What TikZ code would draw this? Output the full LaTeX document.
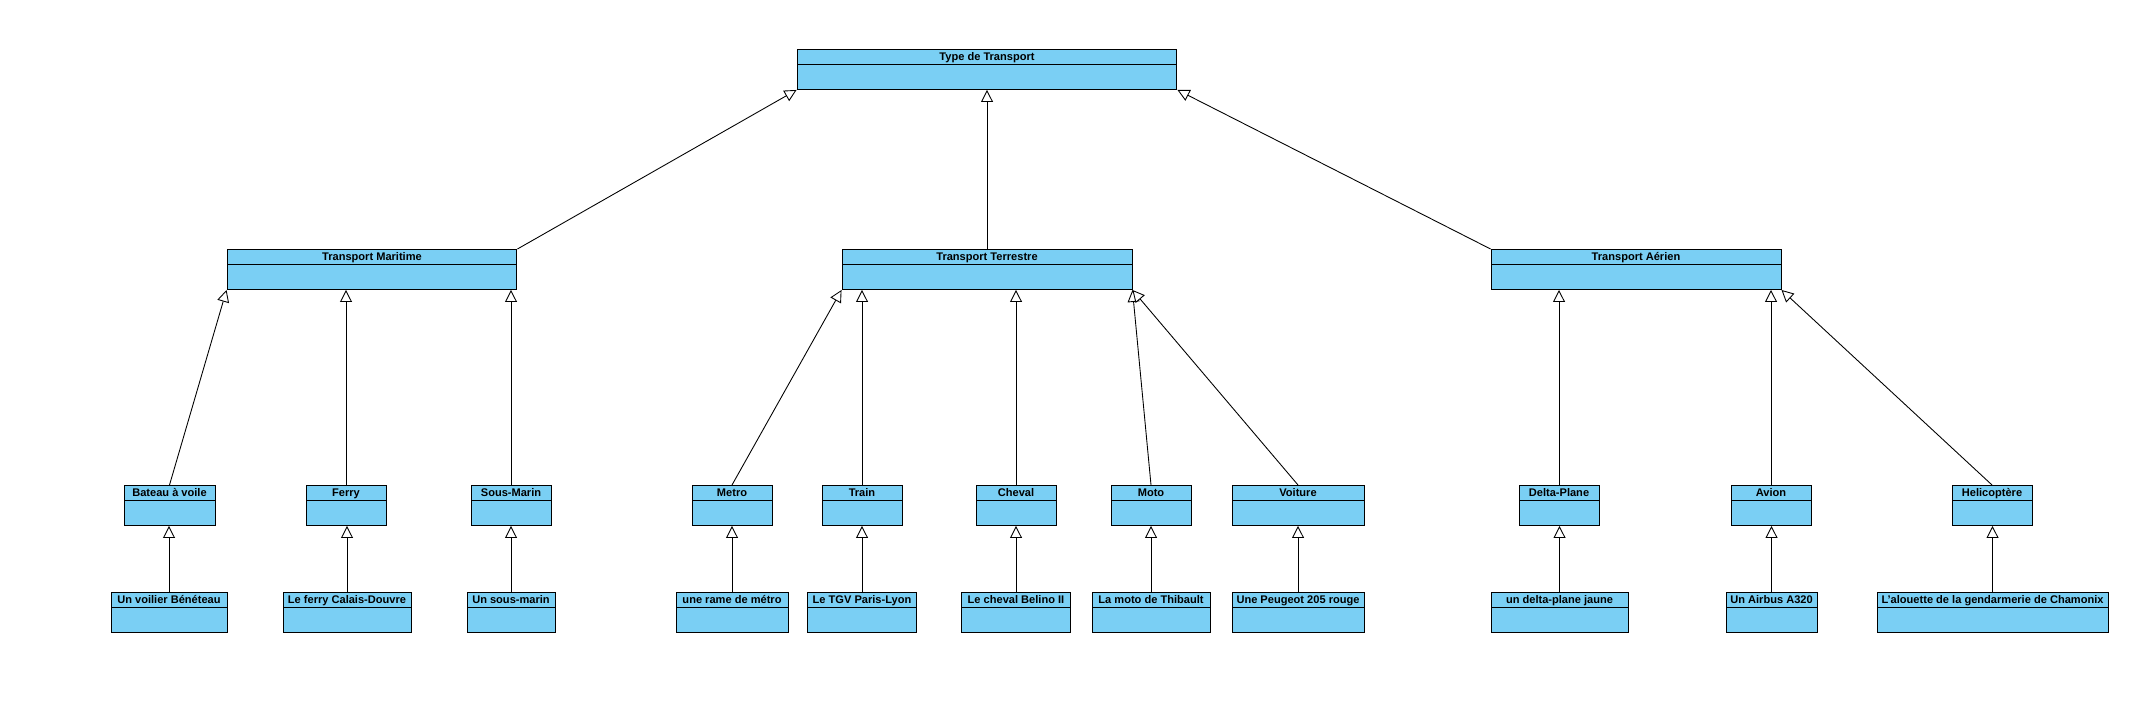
\documentclass[tikz,border=0pt]{standalone}
\usepackage{fontspec}
\setmainfont{Liberation Sans}
\usetikzlibrary{arrows.meta}
\definecolor{bleuclasse}{RGB}{122,207,244}

\begin{document}
\begin{tikzpicture}[x=0.02cm,y=-0.02cm,
	classe/.style={draw, fill=bleuclasse, line width=0.55pt, anchor=north, inner sep=0pt, minimum height=0.8cm, text height=0.22cm, text depth=0.58cm, font=\fontsize{6.3}{7}\selectfont\bfseries, path picture={\draw[line width=0.55pt] ([yshift=-0.3cm]path picture bounding box.north west)--([yshift=-0.3cm]path picture bounding box.north east);}},
	herit/.style={line width=0.5pt, -{Triangle[fill=white, length=0.24cm, width=0.24cm, line width=0.5pt]}}]
	\useasboundingbox (0,0) rectangle (2156,713);
	\node[classe, minimum width=7.6cm] (type) at (987,49){Type de Transport};
	\node[classe, minimum width=5.8cm] (mar) at (372,249){Transport Maritime};
	\node[classe, minimum width=5.8cm] (terr) at (987,249){Transport Terrestre};
	\node[classe, minimum width=5.8cm] (aer) at (1636,249){Transport Aérien};
	\node[classe, minimum width=1.82cm] (bateau) at (169.5,485){Bateau à voile};
	\node[classe, minimum width=1.6cm] (ferry) at (346,485){Ferry};
	\node[classe, minimum width=1.6cm] (sousmarin) at (511,485){Sous-Marin};
	\node[classe, minimum width=1.6cm] (metro) at (732,485){Metro};
	\node[classe, minimum width=1.6cm] (train) at (862,485){Train};
	\node[classe, minimum width=1.6cm] (cheval) at (1016,485){Cheval};
	\node[classe, minimum width=1.6cm] (moto) at (1151,485){Moto};
	\node[classe, minimum width=2.64cm] (voiture) at (1298,485){Voiture};
	\node[classe, minimum width=1.6cm] (delta) at (1559,485){Delta-Plane};
	\node[classe, minimum width=1.6cm] (avion) at (1771,485){Avion};
	\node[classe, minimum width=1.6cm] (helico) at (1992,485){Helicoptère};
	\node[classe, minimum width=2.32cm] (voilier) at (169,592){Un voilier Bénéteau};
	\node[classe, minimum width=2.56cm] (calais) at (347,592){Le ferry Calais-Douvre};
	\node[classe, minimum width=1.76cm] (unsm) at (511,592){Un sous-marin};
	\node[classe, minimum width=2.24cm] (rame) at (732,592){une rame de métro};
	\node[classe, minimum width=2.18cm] (tgv) at (862,592){Le TGV Paris-Lyon};
	\node[classe, minimum width=2.18cm] (belino) at (1016,592){Le cheval Belino II};
	\node[classe, minimum width=2.36cm] (thibault) at (1151,592){La moto de Thibault};
	\node[classe, minimum width=2.64cm] (peugeot) at (1298,592){Une Peugeot 205 rouge};
	\node[classe, minimum width=2.74cm] (jaune) at (1559.5,592){un delta-plane jaune};
	\node[classe, minimum width=1.82cm] (airbus) at (1771.5,592){Un Airbus A320};
	\node[classe, minimum width=4.62cm] (alouette) at (1992.5,592){L'alouette de la gendarmerie de Chamonix};
	% niveau 1
	\draw[herit] (mar.north east)--(type.south west);
	\draw[herit] (terr.north)--(type.south);
	\draw[herit] (aer.north west)--(type.south east);
	% niveau 2
	\draw[herit] (bateau.north)--(mar.south west);
	\draw[herit] (ferry.north)--(ferry.north |- mar.south);
	\draw[herit] (sousmarin.north)--(sousmarin.north |- mar.south);
	\draw[herit] (metro.north)--(terr.south west);
	\draw[herit] (train.north)--(train.north |- terr.south);
	\draw[herit] (cheval.north)--(cheval.north |- terr.south);
	\draw[herit] (moto.north)--(terr.south east);
	\draw[herit] (voiture.north)--(terr.south east);
	\draw[herit] (delta.north)--(delta.north |- aer.south);
	\draw[herit] (avion.north)--(avion.north |- aer.south);
	\draw[herit] (helico.north)--(aer.south east);
	% niveau 3
	\draw[herit] (voilier.north)--(voilier.north |- bateau.south);
	\draw[herit] (calais.north)--(calais.north |- ferry.south);
	\draw[herit] (unsm.north)--(unsm.north |- sousmarin.south);
	\draw[herit] (rame.north)--(rame.north |- metro.south);
	\draw[herit] (tgv.north)--(tgv.north |- train.south);
	\draw[herit] (belino.north)--(belino.north |- cheval.south);
	\draw[herit] (thibault.north)--(thibault.north |- moto.south);
	\draw[herit] (peugeot.north)--(peugeot.north |- voiture.south);
	\draw[herit] (jaune.north)--(jaune.north |- delta.south);
	\draw[herit] (airbus.north)--(airbus.north |- avion.south);
	\draw[herit] (alouette.north)--(alouette.north |- helico.south);
\end{tikzpicture}
\end{document}
